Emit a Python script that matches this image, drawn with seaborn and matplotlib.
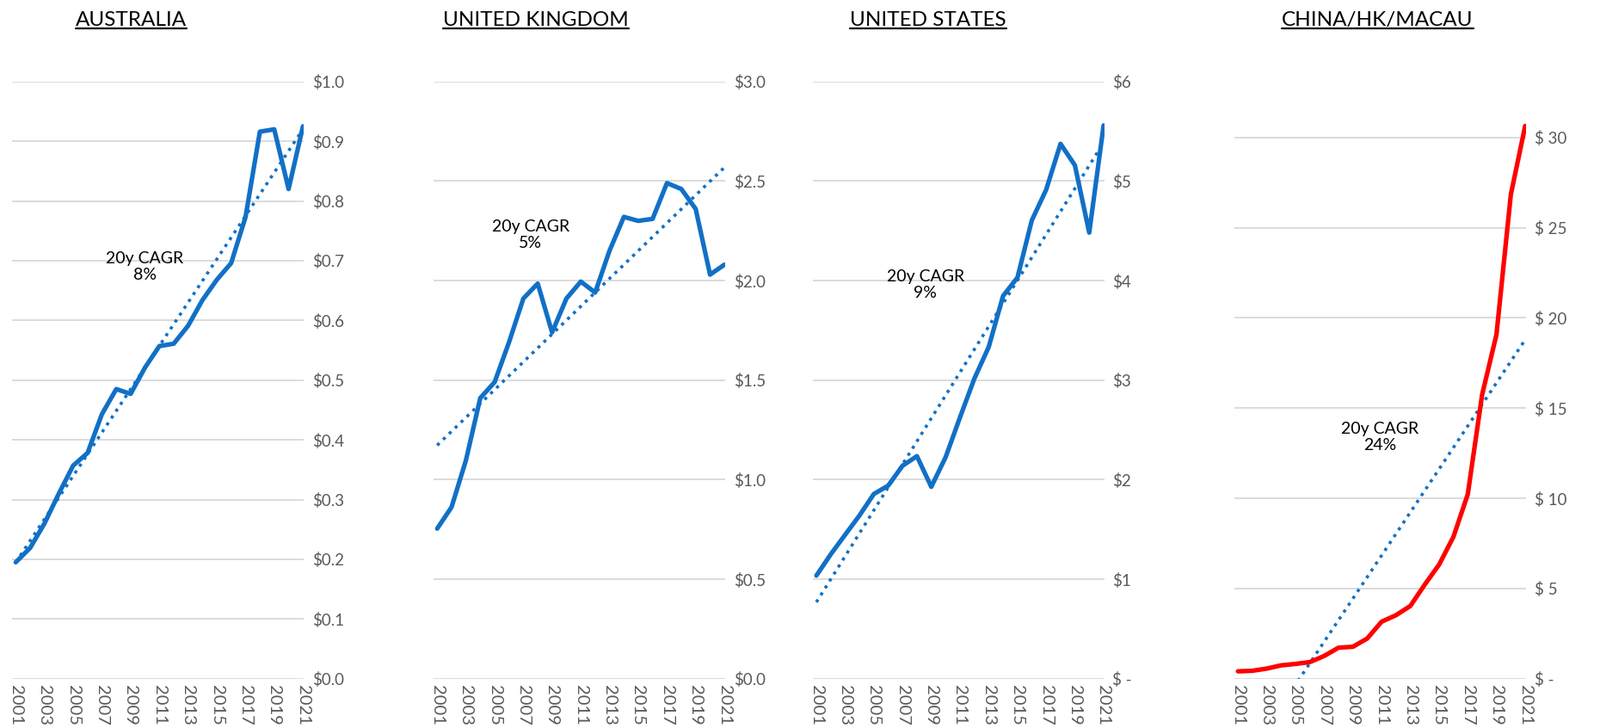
import numpy as np
import pandas as pd
import matplotlib
matplotlib.use("Agg")
import matplotlib.pyplot as plt
from matplotlib.lines import Line2D
import seaborn as sns

# values
years = list(range(2001, 2022))
australia = [0.195, 0.219, 0.260, 0.310, 0.357, 0.378, 0.443, 0.485, 0.477, 0.521, 0.557,
             0.561, 0.591, 0.634, 0.668, 0.696, 0.773, 0.916, 0.920, 0.820, 0.925]
united_kingdom = [0.754, 0.862, 1.097, 1.410, 1.490, 1.690, 1.910, 1.985, 1.740, 1.910, 1.995,
                  1.940, 2.150, 2.320, 2.300, 2.310, 2.490, 2.460, 2.360, 2.030, 2.080]
united_states = [1.036, 1.250, 1.446, 1.640, 1.856, 1.940, 2.140, 2.236, 1.928, 2.226, 2.626,
                 3.015, 3.333, 3.846, 4.030, 4.605, 4.913, 5.374, 5.159, 4.482, 5.559]
china = [0.41, 0.44, 0.56, 0.74, 0.82, 0.92, 1.26, 1.72, 1.77, 2.23, 3.16,
         3.52, 4.03, 5.21, 6.32, 7.86, 10.22, 15.74, 19.08, 26.84, 30.64]

titles = ["AUSTRALIA", "UNITED KINGDOM", "UNITED STATES", "CHINA/HK/MACAU"]
cagr = ["8%", "5%", "9%", "24%"]
year_ticks = list(range(2001, 2022, 2))

aus_ticks = [0.0, 0.1, 0.2, 0.3, 0.4, 0.5, 0.6, 0.7, 0.8, 0.9, 1.0]
aus_labels = ["$0.0", "$0.1", "$0.2", "$0.3", "$0.4", "$0.5", "$0.6", "$0.7", "$0.8", "$0.9", "$1.0"]
uk_ticks = [0.0, 0.5, 1.0, 1.5, 2.0, 2.5, 3.0]
uk_labels = ["$0.0", "$0.5", "$1.0", "$1.5", "$2.0", "$2.5", "$3.0"]
us_ticks = [0, 1, 2, 3, 4, 5, 6]
us_labels = ["$ -", "$1", "$2", "$3", "$4", "$5", "$6"]
cn_ticks = [0, 5, 10, 15, 20, 25, 30]
cn_labels = ["$ -", "$ 5", "$ 10", "$ 15", "$ 20", "$ 25", "$ 30"]

series = [australia, united_kingdom, united_states, china]
ticks = [aus_ticks, uk_ticks, us_ticks, cn_ticks]
labels = [aus_labels, uk_labels, us_labels, cn_labels]
ytop = [1.0, 3.0, 6.0, 33.1]
line_colors = ["#1170C6", "#1170C6", "#1170C6", "#FF0000"]
note_xy = [(2010.0, 0.69), (2007.5, 2.23), (2008.6, 3.96), (2010.9, 13.4)]
lefts = [0.0076, 0.271, 0.508, 0.7715]
title_x = [0.082, 0.335, 0.580, 0.861]

sns.set_style("white")
plt.rcParams['font.family'] = ['Lato', 'DejaVu Sans']

fig = plt.figure(figsize=(18.6, 8.46), dpi=100)
title_objs = []
for i in range(4):
    ax = fig.add_axes([lefts[i], 0.0677, 0.1822, 0.8203])
    df = pd.DataFrame({'year': years, 'value': series[i]})
    sns.regplot(data=df, x='year', y='value', scatter=False, ci=None, ax=ax,
                line_kws=dict(color='#1170C6', lw=2.6, ls=':'))
    sns.lineplot(data=df, x='year', y='value', ax=ax, color=line_colors[i], lw=3.8,
                 solid_joinstyle='round', solid_capstyle='round')
    ax.set_xlim(2000.75, 2021.05)
    ax.set_ylim(0, ytop[i])
    ax.set_yticks(ticks[i])
    ax.set_yticklabels(labels[i])
    ax.yaxis.tick_right()
    ax.set_xticks(year_ticks)
    ax.set_xticklabels([str(y) for y in year_ticks], rotation=-90, va='top')
    ax.tick_params(axis='y', length=0, pad=7, labelsize=13.5, labelcolor='#595959')
    ax.tick_params(axis='x', length=0, pad=5, labelsize=14.5, labelcolor='#595959')
    ax.yaxis.grid(True, color='#d9d9d9', lw=1.3)
    ax.xaxis.grid(False)
    ax.set_axisbelow(True)
    for s in ax.spines.values():
        s.set_visible(False)
    ax.set_xlabel('')
    ax.set_ylabel('')
    ax.text(note_xy[i][0], note_xy[i][1], "20y CAGR\n" + cagr[i], ha='center', va='center',
            fontsize=14, color='black', linespacing=1.15)
    t = fig.text(title_x[i], 0.972, titles[i], ha='center', va='center', fontsize=17.5, color='black')
    title_objs.append(t)

# underline the titles
fig.canvas.draw()
renderer = fig.canvas.get_renderer()
W, H = fig.get_size_inches() * fig.dpi
for t in title_objs:
    bb = t.get_window_extent(renderer)
    yy = (bb.y0 + 1) / H
    fig.add_artist(Line2D([bb.x0 / W, bb.x1 / W], [yy, yy], transform=fig.transFigure,
                          color='black', lw=1.6))

plt.savefig('out.png', dpi=100)
